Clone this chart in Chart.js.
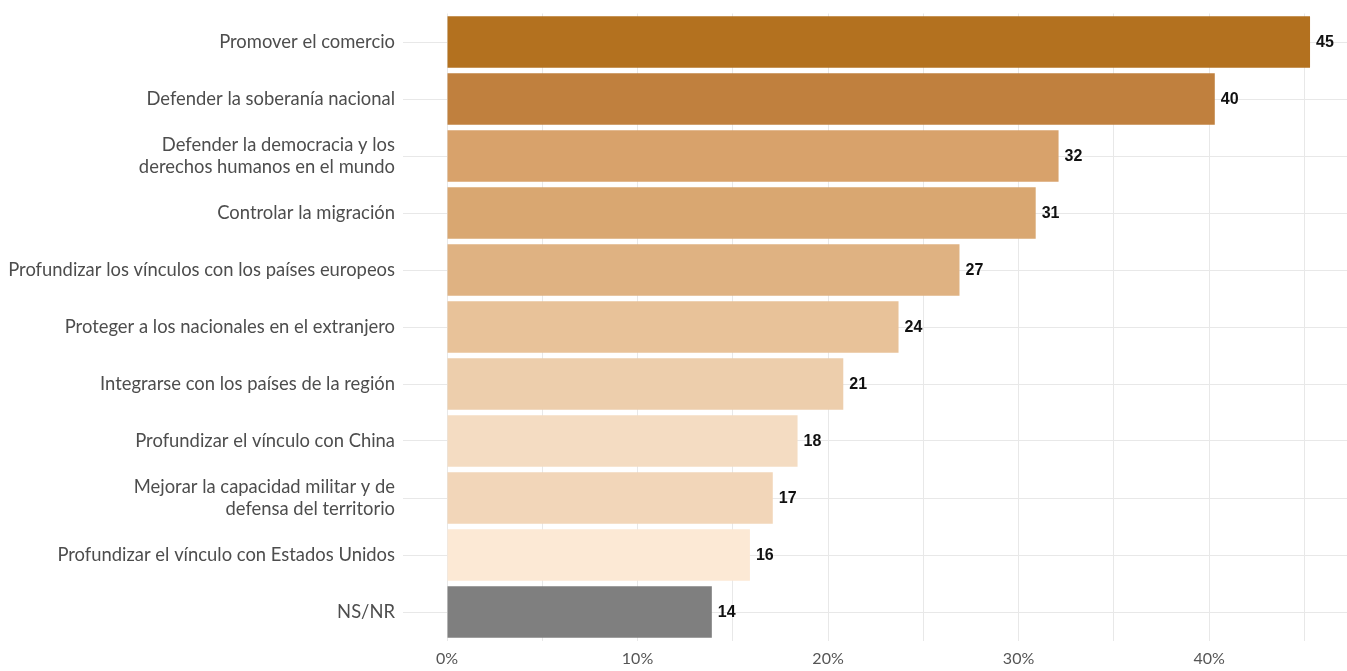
<!DOCTYPE html>
<html>
<head>
<meta charset="utf-8">
<script src="https://cdn.jsdelivr.net/npm/chart.js@4"></script>
<style>
    html, body { margin: 0; padding: 0; background: #fff; }
    #wrap { width: 1347px; height: 671px; }
</style>
</head>
<body>
<div id="wrap"><canvas id="prioritiesChart"></canvas></div>
<script>
// Data
const categories = [
    'Promover el comercio',
    'Defender la soberanía nacional',
    ['Defender la democracia y los', 'derechos humanos en el mundo'],
    'Controlar la migración',
    'Profundizar los vínculos con los países europeos',
    'Proteger a los nacionales en el extranjero',
    'Integrarse con los países de la región',
    'Profundizar el vínculo con China',
    ['Mejorar la capacidad militar y de', 'defensa del territorio'],
    'Profundizar el vínculo con Estados Unidos',
    'NS/NR'
];
const values = [45.3, 40.3, 32.1, 30.9, 26.9, 23.7, 20.8, 18.4, 17.1, 15.9, 13.9];
const barColors = [
    '#b3711f', '#c0803e', '#d8a26b', '#d9a771', '#dfb282', '#e8c299',
    '#edceac', '#f4dcc2', '#f2d6b9', '#fce9d5', '#7f7f7f'
];
const xTickValues = [0, 5, 10, 15, 20, 25, 30, 35, 40, 45];

// Draw the rounded value next to each bar
const valueLabels = {
    id: 'valueLabels',
    afterDatasetsDraw(chart) {
        const ctx = chart.ctx;
        const meta = chart.getDatasetMeta(0);
        ctx.save();
        ctx.font = 'bold 16px "Liberation Sans", Arial, sans-serif';
        ctx.fillStyle = '#111';
        ctx.textBaseline = 'middle';
        ctx.textAlign = 'left';
        meta.data.forEach((bar, i) => {
            ctx.fillText(Math.round(values[i]), bar.x + 6, bar.y + 1);
        });
        ctx.restore();
    }
};

const ctx = document.getElementById('prioritiesChart');
new Chart(ctx, {
    type: 'bar',
    data: {
        labels: categories,
        datasets: [{
            data: values,
            backgroundColor: barColors,
            barPercentage: 0.9,
            categoryPercentage: 1.0
        }]
    },
    options: {
        indexAxis: 'y',
        responsive: true,
        maintainAspectRatio: false,
        animation: false,
        layout: { padding: { top: 13.5, right: 0, bottom: 0, left: 0 } },
        plugins: {
            legend: { display: false },
            tooltip: { enabled: false }
        },
        scales: {
            x: {
                min: -2.31,
                max: 47.24,
                afterBuildTicks(scale) {
                    scale.ticks = xTickValues.map(v => ({ value: v }));
                },
                afterFit(scale) {
                    scale.height = 30.5;
                    scale.paddingLeft = 0;
                    scale.paddingRight = 0;
                },
                grid: { color: '#e8e8e8', lineWidth: 1, drawTicks: false },
                border: { display: false },
                ticks: {
                    autoSkip: false,
                    maxRotation: 0,
                    padding: 9,
                    color: '#555',
                    font: { family: 'Lato, sans-serif', size: 16 },
                    callback: v => (v % 10 === 0 ? v + '%' : '')
                }
            },
            y: {
                afterFit(scale) {
                    scale.width = 403;
                    scale.paddingTop = 0;
                    scale.paddingBottom = 0;
                },
                grid: { color: '#e8e8e8', lineWidth: 1, offset: false, drawTicks: false },
                border: { display: false },
                ticks: {
                    padding: 8,
                    color: '#4d4d4d',
                    font: { family: 'Lato, sans-serif', size: 18.4, lineHeight: 1.2 }
                }
            }
        }
    },
    plugins: [valueLabels]
});
</script>
</body>
</html>
